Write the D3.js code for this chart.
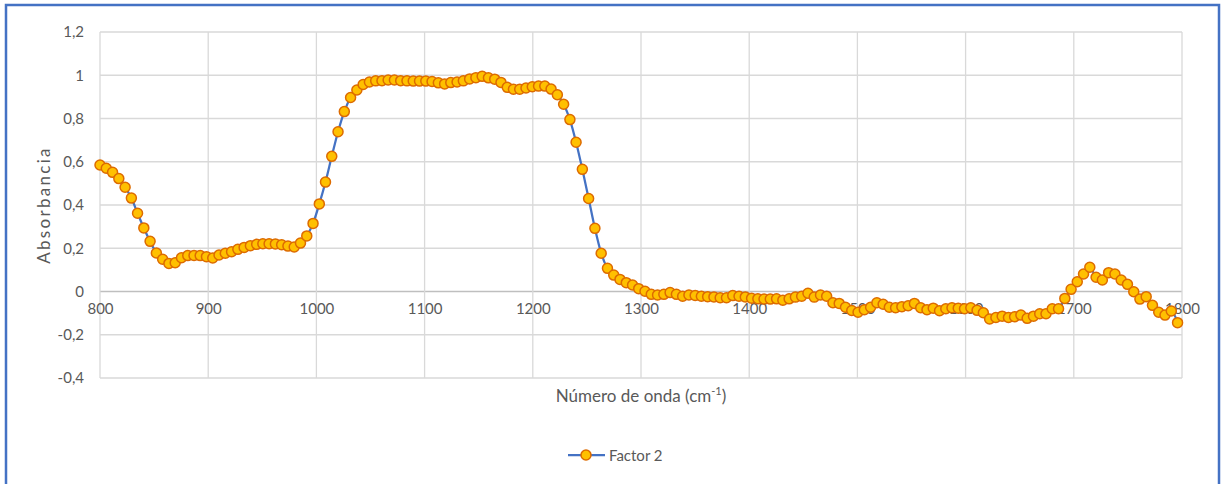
<!DOCTYPE html>
<html lang="es">

<head>
  <meta charset="utf-8">
  <title>Factor 2</title>
  <script src="https://d3js.org/d3.v7.min.js"></script>
  <style>
    body { margin: 0; background: #fff; }
    text { font-family: Lato, "Noto Sans", sans-serif; fill: #595959; }
  </style>
</head>

<body>
  <script>
    // número de onda (cm-1)
    var wavenumbers = [
      800.0, 805.8, 811.6, 817.4, 823.2, 829.0, 834.7, 840.5, 846.3, 852.1,
      857.9, 863.7, 869.5, 875.3, 881.1, 886.9, 892.6, 898.4, 904.2, 910.0,
      915.8, 921.6, 927.4, 933.2, 939.0, 944.8, 950.5, 956.3, 962.1, 967.9,
      973.7, 979.5, 985.3, 991.1, 996.9, 1002.7, 1008.4, 1014.2, 1020.0, 1025.8,
      1031.6, 1037.4, 1043.2, 1049.0, 1054.8, 1060.6, 1066.3, 1072.1, 1077.9, 1083.7,
      1089.5, 1095.3, 1101.1, 1106.9, 1112.7, 1118.5, 1124.2, 1130.0, 1135.8, 1141.6,
      1147.4, 1153.2, 1159.0, 1164.8, 1170.6, 1176.4, 1182.1, 1187.9, 1193.7, 1199.5,
      1205.3, 1211.1, 1216.9, 1222.7, 1228.5, 1234.3, 1240.0, 1245.8, 1251.6, 1257.4,
      1263.2, 1269.0, 1274.8, 1280.6, 1286.4, 1292.2, 1297.9, 1303.7, 1309.5, 1315.3,
      1321.1, 1326.9, 1332.7, 1338.5, 1344.3, 1350.1, 1355.8, 1361.6, 1367.4, 1373.2,
      1379.0, 1384.8, 1390.6, 1396.4, 1402.2, 1408.0, 1413.7, 1419.5, 1425.3, 1431.1,
      1436.9, 1442.7, 1448.5, 1454.3, 1460.1, 1465.9, 1471.6, 1477.4, 1483.2, 1489.0,
      1494.8, 1500.6, 1506.4, 1512.2, 1518.0, 1523.8, 1529.5, 1535.3, 1541.1, 1546.9,
      1552.7, 1558.5, 1564.3, 1570.1, 1575.9, 1581.7, 1587.4, 1593.2, 1599.0, 1604.8,
      1610.6, 1616.4, 1622.2, 1628.0, 1633.8, 1639.6, 1645.3, 1651.1, 1656.9, 1662.7,
      1668.5, 1674.3, 1680.1, 1685.9, 1691.7, 1697.5, 1703.2, 1709.0, 1714.8, 1720.6,
      1726.4, 1732.2, 1738.0, 1743.8, 1749.6, 1755.4, 1761.1, 1766.9, 1772.7, 1778.5,
      1784.3, 1790.1, 1795.9
    ];

    // absorbancia de Factor 2
    var factor2 = [
      0.585, 0.570, 0.551, 0.522, 0.482, 0.432, 0.362, 0.294, 0.232, 0.178,
      0.149, 0.130, 0.133, 0.156, 0.166, 0.167, 0.166, 0.161, 0.155, 0.169,
      0.177, 0.184, 0.195, 0.204, 0.212, 0.218, 0.221, 0.221, 0.220, 0.216,
      0.210, 0.206, 0.224, 0.257, 0.315, 0.405, 0.506, 0.625, 0.739, 0.832,
      0.897, 0.932, 0.957, 0.969, 0.974, 0.975, 0.978, 0.978, 0.975, 0.974,
      0.973, 0.973, 0.973, 0.971, 0.965, 0.960, 0.966, 0.969, 0.974, 0.983,
      0.989, 0.995, 0.988, 0.982, 0.967, 0.944, 0.935, 0.935, 0.941, 0.947,
      0.950, 0.950, 0.936, 0.910, 0.866, 0.795, 0.690, 0.565, 0.430, 0.292,
      0.177, 0.107, 0.076, 0.056, 0.041, 0.030, 0.013, 0.001, -0.013, -0.016,
      -0.013, -0.005, -0.013, -0.022, -0.016, -0.018, -0.022, -0.024, -0.025, -0.029,
      -0.029, -0.019, -0.022, -0.025, -0.031, -0.034, -0.035, -0.035, -0.034, -0.040,
      -0.034, -0.026, -0.022, -0.008, -0.026, -0.016, -0.022, -0.052, -0.055, -0.073,
      -0.088, -0.096, -0.084, -0.073, -0.052, -0.059, -0.073, -0.075, -0.070, -0.066,
      -0.055, -0.075, -0.084, -0.077, -0.089, -0.080, -0.075, -0.077, -0.080, -0.075,
      -0.087, -0.098, -0.127, -0.120, -0.114, -0.120, -0.117, -0.109, -0.124, -0.114,
      -0.103, -0.103, -0.080, -0.080, -0.032, 0.010, 0.045, 0.081, 0.112, 0.066,
      0.053, 0.087, 0.081, 0.053, 0.033, -0.001, -0.035, -0.024, -0.064, -0.096,
      -0.109, -0.090, -0.144
    ];

    var xTicks = [800, 900, 1000, 1100, 1200, 1300, 1400, 1500, 1600, 1700, 1800];
    var yTicks = [-0.4, -0.2, 0, 0.2, 0.4, 0.6, 0.8, 1, 1.2];
    var seriesName = 'Factor 2';

    var w = 1223,
      h = 484;

    var data = wavenumbers.map(function (x, i) {
      return { x: x, y: factor2[i] };
    });

    var x = d3.scaleLinear().domain([800, 1800]).range([100, 1182]);
    var y = d3.scaleLinear().domain([-0.4, 1.2]).range([378, 32]);

    var svg = d3.select('body').append('svg')
      .attr('width', w)
      .attr('height', h);

    // marco azul del gráfico
    svg.append('rect')
      .attr('x', 6).attr('y', 5)
      .attr('width', 1213).attr('height', 500)
      .attr('fill', '#fff')
      .attr('stroke', '#4472c4')
      .attr('stroke-width', 2.5);

    // rejilla horizontal
    svg.append('g')
      .selectAll('line')
      .data(yTicks)
      .enter().append('line')
      .attr('x1', x(800)).attr('x2', x(1800))
      .attr('y1', function (d) { return y(d); })
      .attr('y2', function (d) { return y(d); })
      .attr('stroke', function (d) { return d === 0 ? '#bfbfbf' : '#d9d9d9'; })
      .attr('stroke-width', 1.3);

    // rejilla vertical
    svg.append('g')
      .selectAll('line')
      .data(xTicks)
      .enter().append('line')
      .attr('x1', function (d) { return x(d); })
      .attr('x2', function (d) { return x(d); })
      .attr('y1', y(1.2)).attr('y2', y(-0.4))
      .attr('stroke', '#d9d9d9')
      .attr('stroke-width', 1.3);

    // etiquetas eje y
    var yAxis = d3.axisLeft(y).tickValues(yTicks).tickSize(0).tickPadding(0)
      .tickFormat(function (d) { return d3.format('~g')(d).replace('.', ',').replace('−', '-'); });
    var gy = svg.append('g').attr('transform', 'translate(84,0)').call(yAxis);
    gy.select('.domain').remove();
    gy.selectAll('text')
      .attr('font-size', 15).attr('fill', '#595959')
      .style('font-family', 'Lato, "Noto Sans", sans-serif');

    // etiquetas eje x (cruzan en 0)
    var xAxis = d3.axisBottom(x).tickValues(xTicks).tickSize(0).tickPadding(0)
      .tickFormat(d3.format('d'));
    var gx = svg.append('g').attr('transform', 'translate(0,' + (y(0) + 31) + ')').call(xAxis);
    gx.select('.domain').remove();
    gx.selectAll('text')
      .attr('dy', '0').attr('y', -9)
      .attr('font-size', 15).attr('fill', '#595959')
      .style('font-family', 'Lato, "Noto Sans", sans-serif');

    // línea
    var line = d3.line()
      .x(function (d) { return x(d.x); })
      .y(function (d) { return y(d.y); })
      .curve(d3.curveMonotoneX);

    svg.append('path')
      .datum(data)
      .attr('d', line)
      .attr('fill', 'none')
      .attr('stroke', '#4472c4')
      .attr('stroke-width', 2.25);

    // marcadores
    svg.append('g')
      .selectAll('circle')
      .data(data)
      .enter().append('circle')
      .attr('cx', function (d) { return x(d.x); })
      .attr('cy', function (d) { return y(d.y); })
      .attr('r', 5)
      .attr('fill', '#ffc000')
      .attr('stroke', '#dd6b00')
      .attr('stroke-width', 1.5);

    // títulos de ejes
    var xt = svg.append('text')
      .attr('x', 641).attr('y', 402)
      .attr('text-anchor', 'middle')
      .attr('font-size', 17);
    xt.append('tspan').text('Número de onda (cm');
    xt.append('tspan').text('-1').attr('font-size', 11).attr('dy', -7);
    xt.append('tspan').text(')').attr('dy', 7);

    svg.append('text')
      .attr('transform', 'translate(50,205) rotate(-90)')
      .attr('text-anchor', 'middle')
      .attr('font-size', 17)
      .attr('letter-spacing', 2.3)
      .text('Absorbancia');

    // leyenda
    var lg = svg.append('g').attr('transform', 'translate(568,455)');
    lg.append('line')
      .attr('x1', 0).attr('x2', 37).attr('y1', 0).attr('y2', 0)
      .attr('stroke', '#4472c4').attr('stroke-width', 2.25);
    lg.append('circle')
      .attr('cx', 18).attr('cy', 0).attr('r', 5)
      .attr('fill', '#ffc000').attr('stroke', '#dd6b00').attr('stroke-width', 1.5);
    lg.append('text')
      .attr('x', 41).attr('y', 5.5)
      .attr('font-size', 15)
      .text(seriesName);
  </script>
</body>

</html>
